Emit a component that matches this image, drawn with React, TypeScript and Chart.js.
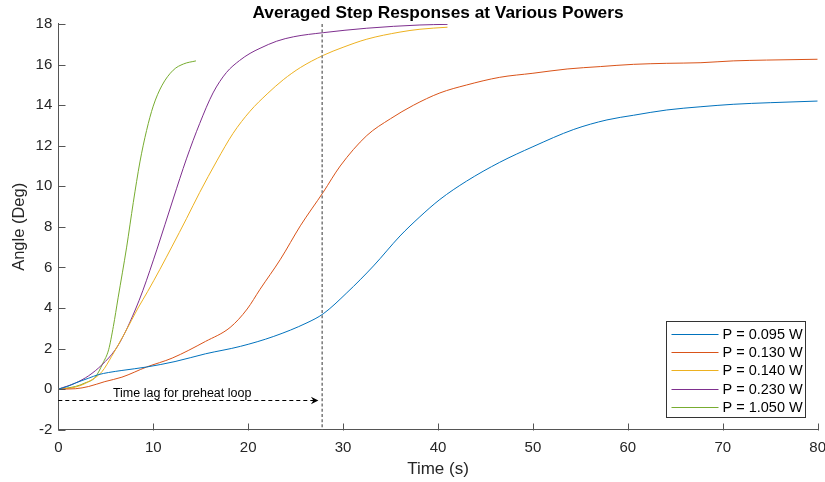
import React, { useEffect, useRef } from "react";
import { Chart, registerables } from "chart.js";

Chart.register(...registerables);

const FONT = "'Liberation Sans', Arial, Helvetica, sans-serif";

const titleText = "Averaged Step Responses at Various Powers";
const xTitle = "Time (s)";
const yTitle = "Angle (Deg)";

const seriesLabels = ["P = 0.095 W", "P = 0.130 W", "P = 0.140 W", "P = 0.230 W", "P = 1.050 W"];
const seriesColors = ["#0072BD", "#D95319", "#EDB120", "#7E2F8E", "#77AC30"];

// P = 0.095 W
const t095 = [0, 1, 1.8, 3.2, 4.2, 5.3, 6.7, 9.3, 12.3, 15.5, 19.2, 22.7, 26.2, 27.9, 30.4, 33.2, 36.0, 38.1, 40.2, 43, 46.5, 50, 54.3, 57.8, 60.6, 64.1, 67.7, 71.1, 75, 80];
const a095 = [0, 0.14, 0.3, 0.54, 0.71, 0.82, 0.92, 1.09, 1.36, 1.74, 2.11, 2.6, 3.27, 3.71, 4.75, 6.07, 7.55, 8.5, 9.35, 10.25, 11.18, 11.95, 12.8, 13.27, 13.5, 13.76, 13.92, 14.04, 14.12, 14.2];

// P = 0.130 W
const t130 = [0, 1.8, 3.2, 4.9, 6.7, 9.3, 12, 15.5, 18.1, 19.9, 21.25, 23.4, 25.5, 27.9, 29.7, 32.5, 35, 37.4, 40.2, 43, 46.5, 50, 53.6, 57.1, 60.6, 64.1, 67.7, 71.1, 74.6, 80];
const a130 = [0, 0.02, 0.13, 0.37, 0.59, 1.09, 1.53, 2.35, 3.04, 3.95, 4.92, 6.4, 8.05, 9.7, 11.0, 12.5, 13.33, 13.99, 14.6, 14.99, 15.37, 15.57, 15.78, 15.9, 16.01, 16.06, 16.09, 16.18, 16.22, 16.26];

// P = 0.140 W
const t140 = [0, 1.8, 3.2, 4.6, 5.6, 7.0, 8.4, 9.4, 10.7, 12.0, 13.5, 14.9, 16.7, 18.4, 20.2, 22.0, 23.7, 25.5, 27.9, 30, 32.5, 36, 38.1, 41];
const a140 = [0, 0.1, 0.37, 0.86, 1.6, 2.76, 4.0, 4.8, 5.9, 7.05, 8.4, 9.7, 11.25, 12.6, 13.7, 14.55, 15.25, 15.85, 16.45, 16.85, 17.25, 17.6, 17.74, 17.84];

// P = 0.230 W
const t230 = [0, 1.8, 3.2, 4.6, 6.0, 7.0, 8.1, 8.9, 10.4, 12.1, 13.5, 14.9, 16.3, 17.7, 19.1, 20.2, 21.25, 23.0, 24.8, 27.9, 32.5, 38.1, 41];
const a230 = [0, 0.3, 0.66, 1.2, 1.94, 2.76, 3.9, 4.85, 6.9, 9.37, 11.35, 13.1, 14.6, 15.6, 16.2, 16.55, 16.8, 17.15, 17.37, 17.57, 17.79, 17.95, 17.98];

// P = 1.050 W
const t1050 = [0, 1.8, 2.8, 3.9, 4.7, 5.3, 5.8, 6.3, 7.2, 7.9, 8.6, 9.3, 10, 10.9, 12.1, 13.2, 14.5];
const a1050 = [0, 0.13, 0.3, 0.59, 1.28, 1.94, 3.09, 4.5, 7.0, 9.2, 11.2, 12.75, 13.95, 14.95, 15.72, 16.03, 16.18];

const seriesTimes = [t095, t130, t140, t230, t1050];
const seriesAngles = [a095, a130, a140, a230, a1050];

const xMin = 0, xMax = 80, xStep = 10;
const yMin = -2, yMax = 18, yStep = 2;

// annotation values
const lagTime = 27.8;
const arrowY = -0.55;
const arrowEnd = 27.4;
const lagLabel = "Time lag for preheat loop";
const lagLabelX = 5.75;
const lagLabelY = -0.37;

const AXIS_COLOR = "#262626";

const inwardTicks = {
  id: "inwardTicks",
  afterDraw(chart: any) {
    const { ctx, chartArea, scales } = chart;
    const len = 7;
    ctx.save();
    ctx.strokeStyle = "#555";
    ctx.lineWidth = 1;
    ctx.beginPath();
    scales.x.ticks.forEach((t: any) => {
      const px = Math.round(scales.x.getPixelForValue(t.value)) + 0.5;
      const b = Math.round(chartArea.bottom) + 0.5;
      ctx.moveTo(px, b);
      ctx.lineTo(px, b - len);
    });
    scales.y.ticks.forEach((t: any) => {
      const py = Math.round(scales.y.getPixelForValue(t.value)) + 0.5;
      const l = Math.round(chartArea.left) + 0.5;
      ctx.moveTo(l, py);
      ctx.lineTo(l + len, py);
    });
    ctx.stroke();
    ctx.restore();
  },
};

const annotations = {
  id: "lagAnnotations",
  afterDatasetsDraw(chart: any) {
    const { ctx, chartArea, scales } = chart;
    const x = scales.x, y = scales.y;
    ctx.save();
    // vertical dotted line
    const vx = x.getPixelForValue(lagTime);
    ctx.strokeStyle = "#808080";
    ctx.lineWidth = 1.6;
    ctx.setLineDash([3, 2.2]);
    ctx.beginPath();
    ctx.moveTo(vx, chartArea.top);
    ctx.lineTo(vx, chartArea.bottom);
    ctx.stroke();
    // dashed arrow
    const ay = Math.round(y.getPixelForValue(arrowY)) + 0.5;
    const x0 = x.getPixelForValue(0);
    const tip = x.getPixelForValue(arrowEnd);
    ctx.strokeStyle = "#000";
    ctx.lineWidth = 1;
    ctx.setLineDash([4, 3]);
    ctx.beginPath();
    ctx.moveTo(x0, ay);
    ctx.lineTo(tip - 4, ay);
    ctx.stroke();
    ctx.setLineDash([]);
    ctx.fillStyle = "#000";
    ctx.beginPath();
    ctx.moveTo(tip, ay);
    ctx.lineTo(tip - 7.5, ay - 3.8);
    ctx.lineTo(tip - 5, ay);
    ctx.lineTo(tip - 7.5, ay + 3.8);
    ctx.closePath();
    ctx.fill();
    // label
    ctx.font = `12.5px ${FONT}`;
    ctx.textAlign = "left";
    ctx.textBaseline = "alphabetic";
    ctx.fillStyle = "#000";
    ctx.fillText(lagLabel, x.getPixelForValue(lagLabelX), y.getPixelForValue(lagLabelY));
    ctx.restore();
  },
};

const boxLegend = {
  id: "boxLegend",
  afterDraw(chart: any) {
    const { ctx, chartArea } = chart;
    const w = 139, h = 96;
    const right = chartArea.right - 12.5;
    const bottom = chartArea.bottom - 12.5;
    const left = Math.round(right - w) + 0.5;
    const top = Math.round(bottom - h) + 0.5;
    ctx.save();
    ctx.fillStyle = "#fff";
    ctx.fillRect(left, top, w, h);
    ctx.strokeStyle = "#333";
    ctx.lineWidth = 1;
    ctx.strokeRect(left, top, w, h);
    ctx.font = `14.5px ${FONT}`;
    ctx.textAlign = "left";
    ctx.textBaseline = "middle";
    chart.data.datasets.forEach((ds: any, i: number) => {
      const cy = Math.round(top + 12.5 + i * 18.2) + 0.5;
      ctx.strokeStyle = ds.borderColor;
      ctx.lineWidth = 1;
      ctx.beginPath();
      ctx.moveTo(left + 5, cy);
      ctx.lineTo(left + 52, cy);
      ctx.stroke();
      ctx.fillStyle = "#000";
      ctx.fillText(ds.label, left + 56, cy + 0.5);
    });
    ctx.restore();
  },
};

export default function App() {
  const ref = useRef<HTMLCanvasElement | null>(null);
  useEffect(() => {
    if (!ref.current) return;
    const datasets = seriesLabels.map((label, i) => ({
      label,
      data: seriesTimes[i].map((t, j) => ({ x: t, y: seriesAngles[i][j] })),
      borderColor: seriesColors[i],
      backgroundColor: seriesColors[i],
      borderWidth: 1,
      pointRadius: 0,
      fill: false,
      cubicInterpolationMode: "monotone" as const,
    }));
    const chart = new Chart(ref.current, {
      type: "line",
      data: { datasets },
      plugins: [inwardTicks, annotations, boxLegend],
      options: {
        responsive: false,
        animation: false,
        events: [],
        layout: { padding: { left: 0, right: 7.3, top: 0, bottom: 0 } },
        plugins: {
          legend: { display: false },
          tooltip: { enabled: false },
          title: {
            display: true,
            text: titleText,
            fullSize: false,
            color: "#000",
            font: { family: FONT, size: 17.3, weight: "bold" },
            padding: { top: 3, bottom: 0.2 },
          },
        },
        scales: {
          x: {
            type: "linear",
            min: xMin,
            max: xMax,
            ticks: { stepSize: xStep, color: AXIS_COLOR, font: { family: FONT, size: 15 }, padding: 9, maxRotation: 0 },
            grid: { display: true, drawOnChartArea: false, drawTicks: false },
            border: { display: true, color: "#555", width: 1 },
            title: { display: true, text: xTitle, color: AXIS_COLOR, font: { family: FONT, size: 17 }, padding: { top: 0, bottom: 2 } },
            afterFit: (s: any) => {
              s.height = 52.3;
              s.paddingLeft = 0;
              s.paddingRight = 0;
            },
          },
          y: {
            type: "linear",
            min: yMin,
            max: yMax,
            ticks: { stepSize: yStep, color: AXIS_COLOR, font: { family: FONT, size: 15 }, padding: 6 },
            grid: { display: true, drawOnChartArea: false, drawTicks: false },
            border: { display: true, color: "#555", width: 1 },
            title: { display: true, text: yTitle, color: AXIS_COLOR, font: { family: FONT, size: 16.5 }, padding: { top: 10, bottom: 0 } },
            afterFit: (s: any) => {
              s.width = 58.3;
              s.paddingTop = 0;
              s.paddingBottom = 0;
            },
          },
        },
      },
    });
    return () => chart.destroy();
  }, []);
  return (
    <div style={{ position: "absolute", left: 0, top: 0, width: 825, height: 482, background: "#fff" }}>
      <canvas ref={ref} width={825} height={482} style={{ display: "block" }} />
    </div>
  );
}
